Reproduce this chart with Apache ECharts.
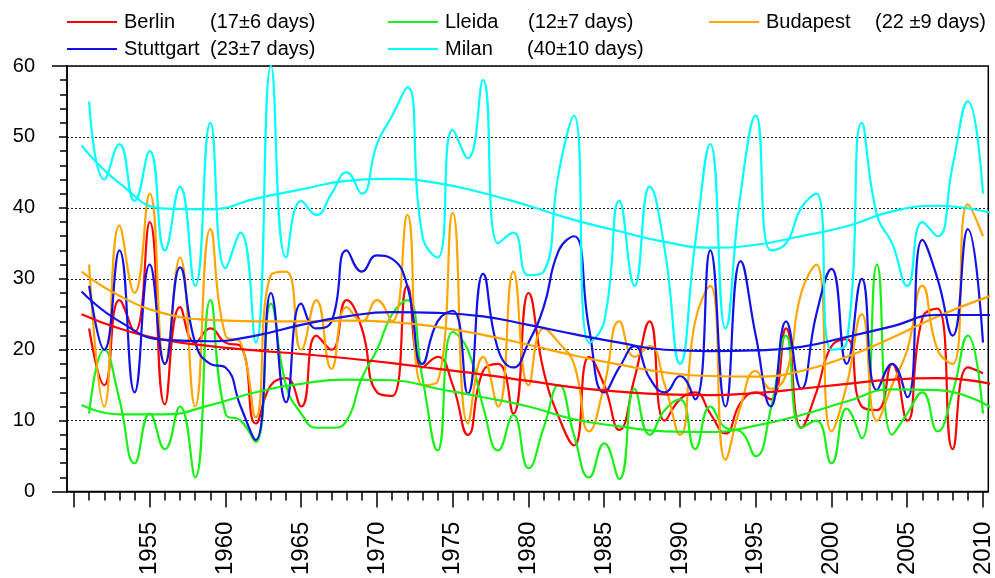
<!DOCTYPE html>
<html>
<head>
<meta charset="utf-8">
<script src="https://cdn.jsdelivr.net/npm/echarts@6/dist/echarts.min.js"></script>
<style>
  html, body { margin: 0; padding: 0; background: #fff; }
  #chart { width: 995px; height: 578px; }
</style>
</head>
<body>
<div id="chart"></div>
<script>
// Number of days per year, 1951-2010, for five European cities
const years = [];
for (let y = 1951; y <= 2010; y++) years.push(y);

const berlin = [
  23, 15, 27, 22.5, 38, 12.3, 26, 21, 23, 21,
  20.5, 9.6, 15, 16, 12, 22, 20, 27, 23, 14,
  13.5, 29, 17.5, 19, 15, 8, 17, 18, 11, 28,
  17, 10.5, 6.5, 19, 15, 8.7, 16, 24, 10, 13,
  14, 11, 8.2, 12.5, 14, 13, 23, 9, 14, 20.5,
  21.5, 12, 11.5, 18, 10, 24.5, 25.8, 6, 17.5, 16.7
];
const lleida = [
  11, 20, 13, 4, 11, 6, 12, 2, 27, 11,
  10, 7, 26.5, 15, 11, 9, 9, 10, 16, 20,
  25, 27, 16, 5.8, 22.5, 20, 12, 5.8, 10.8, 3.3,
  9, 15, 8, 2, 6.8, 1.8, 14.5, 8, 11.5, 13,
  6, 12, 9, 8.5, 5, 11.7, 22, 9, 10, 4,
  11.7, 7.5, 32, 8, 11, 14, 8.5, 14, 22, 11
];
const budapest = [
  32, 12, 37.5, 28, 42, 18, 33, 12, 37, 22,
  21, 10.5, 30.5, 31, 20, 27, 17.3, 26, 24, 27,
  24, 39, 15, 15.5, 39.3, 9.6, 19, 12, 31, 15,
  23, 21, 18, 8.5, 15, 24, 19, 20.5, 15, 8,
  24, 29, 4.5, 12, 17, 14.5, 16.5, 28, 32, 8.5,
  15, 25, 10, 15, 20, 29, 20, 18, 40.5, 36
];
const stuttgart = [
  29, 20, 34, 14, 32, 18, 31.6, 21, 18, 17.5,
  12, 7.3, 28, 12.6, 26.5, 23, 24, 34, 31, 33.3,
  32.8, 29, 18, 24, 25.5, 13.8, 30.7, 20, 17.5, 21,
  26, 34, 36, 23, 14, 17.5, 20.5, 16, 14, 16.3,
  13, 34, 12, 32.5, 22, 12, 24, 14.5, 25, 31.4,
  18, 30, 14.3, 18, 13.3, 35.5, 30, 22, 37, 21
];
const milan = [
  55, 44, 49, 41, 48, 34, 43, 29, 52, 31.5,
  36.5, 21, 60, 33, 41, 39, 42, 45, 42, 49,
  53, 57, 36, 33, 51, 47, 58, 35, 36.5, 30.5,
  31, 45, 53, 21, 24, 41, 29, 43, 34, 18,
  35, 49, 23, 42, 53, 34, 35, 40, 42, 20,
  21, 52, 39, 35, 29, 38, 36, 46, 55, 42
];

// Long-term trend curves, sampled along the period
const trendYears = [1950.5, 1953, 1956, 1959, 1962, 1965, 1968, 1971, 1974, 1977, 1980,
                    1983, 1986, 1989, 1992, 1995, 1998, 2001, 2004, 2007, 2010.5];
const berlinTrend    = [25.0, 23.0, 21.4, 20.5, 19.9, 19.4, 18.8, 18.1, 17.3, 16.5, 15.6, 14.7, 14.1, 13.7, 13.6, 13.9, 14.5, 15.2, 15.8, 16.0, 15.2];
const lleidaTrend    = [12.2, 10.9, 10.9, 12.2, 14.0, 15.2, 15.8, 15.7, 14.5, 13.3, 12.0, 10.2, 9.2, 8.5, 8.4, 9.3, 10.8, 12.7, 14.4, 14.3, 11.9];
const budapestTrend  = [31.0, 27.6, 25.1, 24.2, 24.0, 24.0, 24.1, 23.9, 23.2, 22.1, 20.7, 19.2, 17.9, 16.8, 16.3, 16.2, 17.0, 19.0, 21.7, 24.7, 27.6];
const stuttgartTrend = [28.2, 24.0, 21.4, 21.2, 22.0, 23.5, 24.7, 25.3, 25.2, 24.7, 23.5, 22.2, 21.0, 20.0, 19.8, 19.9, 20.4, 21.8, 23.3, 24.9, 24.9];
const milanTrend     = [48.8, 43.5, 39.9, 39.8, 41.3, 42.6, 43.8, 44.1, 43.5, 42.1, 40.3, 38.3, 36.7, 35.2, 34.4, 34.8, 36.0, 37.4, 39.5, 40.3, 39.3];

// Legend entries: name and mean ± spread
const cityNames = ['Berlin', 'Lleida', 'Budapest', 'Stuttgart', 'Milan'];
const cityStats = ['(17\u00b16 days)', '(12\u00b17 days)', '(22 \u00b19 days)', '(23\u00b17 days)', '(40\u00b110 days)'];

// Axis tick positions
const majorTicks = [];
for (let y = 1950; y <= 2010; y += 5) majorTicks.push(y);
const yearLabels = majorTicks.filter(y => y >= 1955);
const minorTicks = [];
for (let y = 1950; y <= 2010; y++) minorTicks.push(y);
const frameTicks = [0, 60];

const colors = {
  Berlin: '#ff0000',
  Lleida: '#18f018',
  Budapest: '#ffa500',
  Stuttgart: '#1212e8',
  Milan: '#00ffff'
};

const FONT = '"Liberation Sans", Arial, sans-serif';
const X_MIN = 1949.54, X_MAX = 2010.35;
const LINE_W = 2.2;
const AXIS_LINE = { color: '#000', width: 1.5 };

function pairs(xs, vs) { return xs.map((x, i) => [x, vs[i]]); }

const dataSets = { Berlin: berlin, Lleida: lleida, Budapest: budapest, Stuttgart: stuttgart, Milan: milan };
const trendSets = { Berlin: berlinTrend, Lleida: lleidaTrend, Budapest: budapestTrend, Stuttgart: stuttgartTrend, Milan: milanTrend };

const series = [];
cityNames.forEach(name => {
  series.push({
    name: name, type: 'line', data: pairs(years, dataSets[name]),
    smooth: 0.5, showSymbol: false, symbol: 'none',
    lineStyle: { color: colors[name], width: LINE_W }, itemStyle: { color: colors[name] },
    z: 2
  });
});
cityNames.forEach(name => {
  series.push({
    name: name + ' trend', type: 'line', data: pairs(trendYears, trendSets[name]),
    smooth: 0.5, showSymbol: false, symbol: 'none',
    lineStyle: { color: colors[name], width: LINE_W }, itemStyle: { color: colors[name] },
    z: 3
  });
});

// One legend block per entry so that they sit on a fixed 3-column layout
const legendSlots = [
  { left: 62, top: 7, pad: 86 },
  { left: 383, top: 7, pad: 83 },
  { left: 704, top: 7, pad: 109 },
  { left: 62, top: 34, pad: 86 },
  { left: 383, top: 34, pad: 82 }
];
const legends = cityNames.map((name, i) => ({
  data: [name],
  left: legendSlots[i].left,
  top: legendSlots[i].top,
  icon: 'rect',
  itemWidth: 50,
  itemHeight: 2,
  selectedMode: false,
  formatter: n => '{n|' + n + '}{s|' + cityStats[i] + '}',
  textStyle: {
    fontFamily: FONT, fontSize: 20, color: '#000',
    rich: {
      n: { fontFamily: FONT, fontSize: 20, color: '#000', width: legendSlots[i].pad, padding: [0, 0, 0, 2] },
      s: { fontFamily: FONT, fontSize: 20, color: '#000' }
    }
  }
}));

const chart = echarts.init(document.getElementById('chart'), null, { renderer: 'canvas' });
chart.setOption({
  animation: false,
  backgroundColor: '#fff',
  textStyle: { fontFamily: FONT },
  legend: legends,
  grid: {
    left: 67, right: 3, top: 66, bottom: 84.7,
    show: true, borderColor: '#000', borderWidth: 1.5, containLabel: false
  },
  xAxis: [
    {
      type: 'value', min: X_MIN, max: X_MAX, position: 'bottom',
      axisLine: { show: true, onZero: false, lineStyle: AXIS_LINE },
      axisTick: { show: true, customValues: majorTicks, length: 16, lineStyle: AXIS_LINE },
      axisLabel: {
        show: true, customValues: yearLabels, rotate: 90, margin: 30,
        fontSize: 24, color: '#000', fontFamily: FONT,
        formatter: v => String(Math.round(v))
      },
      splitLine: { show: false }
    },
    {
      type: 'value', min: X_MIN, max: X_MAX, position: 'bottom',
      axisLine: { show: false },
      axisTick: { show: true, customValues: minorTicks, length: 9, lineStyle: AXIS_LINE },
      axisLabel: { show: false },
      splitLine: { show: false }
    }
  ],
  yAxis: [
    {
      type: 'value', min: 0, max: 60, interval: 10, position: 'left',
      axisLine: { show: true, lineStyle: AXIS_LINE },
      axisTick: { show: true, length: 8, lineStyle: AXIS_LINE },
      minorTick: { show: true, splitNumber: 5, length: 7, lineStyle: AXIS_LINE },
      axisLabel: { fontSize: 20, color: '#000', margin: 32, fontFamily: FONT },
      splitLine: { show: true, lineStyle: { color: '#222', type: [2, 2], width: 1 } }
    },
    {
      // frame lines at 0 and 60 continue a little past the left axis
      type: 'value', min: 0, max: 60, interval: 10, position: 'left',
      axisLine: { show: false },
      axisTick: { show: true, customValues: frameTicks, length: 15, lineStyle: AXIS_LINE },
      axisLabel: { show: false },
      splitLine: { show: false }
    }
  ],
  series: series
});
</script>
</body>
</html>
